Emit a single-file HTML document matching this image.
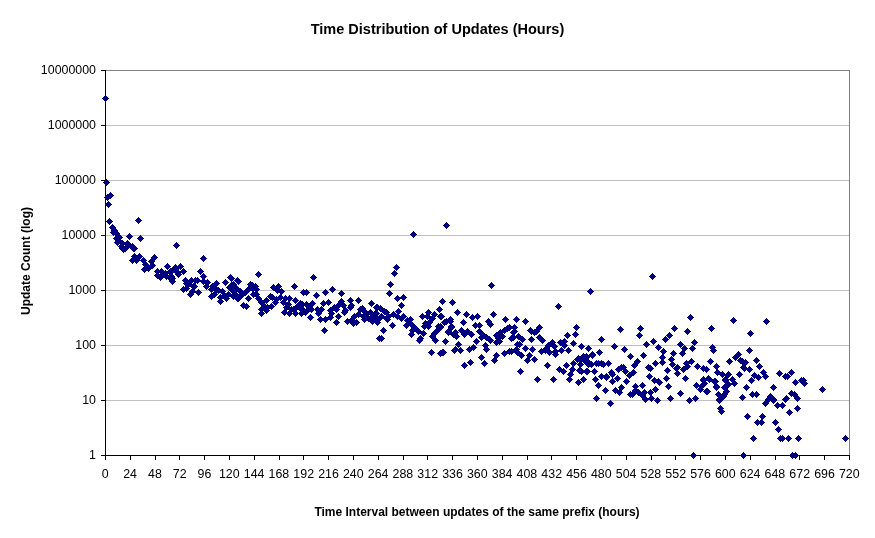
<!DOCTYPE html>
<html><head><meta charset="utf-8"><style>
html,body{margin:0;padding:0;background:#fff;width:875px;height:538px;overflow:hidden}
svg{display:block;will-change:transform}
text{font-family:"Liberation Sans",sans-serif;font-size:12.4px;fill:#000}
.b{font-weight:bold}
</style></head><body>
<svg width="875" height="538" viewBox="0 0 875 538">
<g shape-rendering="crispEdges">
<line x1="105" y1="125.5" x2="849" y2="125.5" stroke="#c0c0c0"/><line x1="105" y1="180.5" x2="849" y2="180.5" stroke="#c0c0c0"/><line x1="105" y1="235.5" x2="849" y2="235.5" stroke="#c0c0c0"/><line x1="105" y1="290.5" x2="849" y2="290.5" stroke="#c0c0c0"/><line x1="105" y1="345.5" x2="849" y2="345.5" stroke="#c0c0c0"/><line x1="105" y1="400.5" x2="849" y2="400.5" stroke="#c0c0c0"/><path d="M105 70.5H849.5V455" fill="none" stroke="#808080"/><path d="M105.5 70V455.5H850" fill="none" stroke="#000"/><path d="M101 70.5H106M101 125.5H106M101 180.5H106M101 235.5H106M101 290.5H106M101 345.5H106M101 400.5H106M101 455.5H106M105.5 455V460M130.5 455V460M155.5 455V460M179.5 455V460M204.5 455V460M229.5 455V460M254.5 455V460M279.5 455V460M303.5 455V460M328.5 455V460M353.5 455V460M378.5 455V460M403.5 455V460M427.5 455V460M452.5 455V460M477.5 455V460M502.5 455V460M527.5 455V460M551.5 455V460M576.5 455V460M601.5 455V460M626.5 455V460M651.5 455V460M675.5 455V460M700.5 455V460M725.5 455V460M750.5 455V460M775.5 455V460M799.5 455V460M824.5 455V460M849.5 455V460" stroke="#000"/>
</g>
<path d="M105.5 94.9l3.6 3.6l-3.6 3.6l-3.6-3.6zM106.5 178.9l3.6 3.6l-3.6 3.6l-3.6-3.6zM107.5 193.9l3.6 3.6l-3.6 3.6l-3.6-3.6zM110.5 191.9l3.6 3.6l-3.6 3.6l-3.6-3.6zM108.5 200.9l3.6 3.6l-3.6 3.6l-3.6-3.6zM109.5 217.9l3.6 3.6l-3.6 3.6l-3.6-3.6zM138.5 216.9l3.6 3.6l-3.6 3.6l-3.6-3.6zM112.5 223.9l3.6 3.6l-3.6 3.6l-3.6-3.6zM113.5 228.9l3.6 3.6l-3.6 3.6l-3.6-3.6zM129.5 232.9l3.6 3.6l-3.6 3.6l-3.6-3.6zM140.5 234.9l3.6 3.6l-3.6 3.6l-3.6-3.6zM116.5 234.9l3.6 3.6l-3.6 3.6l-3.6-3.6zM119.5 233.9l3.6 3.6l-3.6 3.6l-3.6-3.6zM117.5 238.9l3.6 3.6l-3.6 3.6l-3.6-3.6zM122.5 239.9l3.6 3.6l-3.6 3.6l-3.6-3.6zM121.5 242.9l3.6 3.6l-3.6 3.6l-3.6-3.6zM127.5 239.9l3.6 3.6l-3.6 3.6l-3.6-3.6zM125.5 244.9l3.6 3.6l-3.6 3.6l-3.6-3.6zM133.5 244.9l3.6 3.6l-3.6 3.6l-3.6-3.6zM123.5 245.9l3.6 3.6l-3.6 3.6l-3.6-3.6zM122.5 244.9l3.6 3.6l-3.6 3.6l-3.6-3.6zM126.5 243.9l3.6 3.6l-3.6 3.6l-3.6-3.6zM134.5 252.9l3.6 3.6l-3.6 3.6l-3.6-3.6zM132.5 256.9l3.6 3.6l-3.6 3.6l-3.6-3.6zM139.5 252.9l3.6 3.6l-3.6 3.6l-3.6-3.6zM136.5 256.9l3.6 3.6l-3.6 3.6l-3.6-3.6zM143.5 256.9l3.6 3.6l-3.6 3.6l-3.6-3.6zM154.5 253.9l3.6 3.6l-3.6 3.6l-3.6-3.6zM151.5 257.9l3.6 3.6l-3.6 3.6l-3.6-3.6zM144.5 265.9l3.6 3.6l-3.6 3.6l-3.6-3.6zM148.5 264.9l3.6 3.6l-3.6 3.6l-3.6-3.6zM152.5 261.9l3.6 3.6l-3.6 3.6l-3.6-3.6zM157.5 267.9l3.6 3.6l-3.6 3.6l-3.6-3.6zM157.5 271.9l3.6 3.6l-3.6 3.6l-3.6-3.6zM161.5 267.9l3.6 3.6l-3.6 3.6l-3.6-3.6zM167.5 262.9l3.6 3.6l-3.6 3.6l-3.6-3.6zM170.5 268.9l3.6 3.6l-3.6 3.6l-3.6-3.6zM165.5 269.9l3.6 3.6l-3.6 3.6l-3.6-3.6zM174.5 264.9l3.6 3.6l-3.6 3.6l-3.6-3.6zM172.5 274.9l3.6 3.6l-3.6 3.6l-3.6-3.6zM176.5 241.9l3.6 3.6l-3.6 3.6l-3.6-3.6zM203.5 254.9l3.6 3.6l-3.6 3.6l-3.6-3.6zM175.5 263.9l3.6 3.6l-3.6 3.6l-3.6-3.6zM180.5 262.9l3.6 3.6l-3.6 3.6l-3.6-3.6zM183.5 267.9l3.6 3.6l-3.6 3.6l-3.6-3.6zM178.5 270.9l3.6 3.6l-3.6 3.6l-3.6-3.6zM171.5 272.9l3.6 3.6l-3.6 3.6l-3.6-3.6zM172.5 277.9l3.6 3.6l-3.6 3.6l-3.6-3.6zM200.5 267.9l3.6 3.6l-3.6 3.6l-3.6-3.6zM203.5 272.9l3.6 3.6l-3.6 3.6l-3.6-3.6zM185.5 276.9l3.6 3.6l-3.6 3.6l-3.6-3.6zM191.5 276.9l3.6 3.6l-3.6 3.6l-3.6-3.6zM197.5 276.9l3.6 3.6l-3.6 3.6l-3.6-3.6zM186.5 284.9l3.6 3.6l-3.6 3.6l-3.6-3.6zM192.5 287.9l3.6 3.6l-3.6 3.6l-3.6-3.6zM198.5 288.9l3.6 3.6l-3.6 3.6l-3.6-3.6zM194.5 282.9l3.6 3.6l-3.6 3.6l-3.6-3.6zM207.5 278.9l3.6 3.6l-3.6 3.6l-3.6-3.6zM211.5 285.9l3.6 3.6l-3.6 3.6l-3.6-3.6zM211.5 292.9l3.6 3.6l-3.6 3.6l-3.6-3.6zM216.5 279.9l3.6 3.6l-3.6 3.6l-3.6-3.6zM218.5 286.9l3.6 3.6l-3.6 3.6l-3.6-3.6zM224.5 291.9l3.6 3.6l-3.6 3.6l-3.6-3.6zM220.5 297.9l3.6 3.6l-3.6 3.6l-3.6-3.6zM225.5 278.9l3.6 3.6l-3.6 3.6l-3.6-3.6zM230.5 273.9l3.6 3.6l-3.6 3.6l-3.6-3.6zM233.5 280.9l3.6 3.6l-3.6 3.6l-3.6-3.6zM229.5 283.9l3.6 3.6l-3.6 3.6l-3.6-3.6zM237.5 276.9l3.6 3.6l-3.6 3.6l-3.6-3.6zM235.5 290.9l3.6 3.6l-3.6 3.6l-3.6-3.6zM237.5 294.9l3.6 3.6l-3.6 3.6l-3.6-3.6zM258.5 270.9l3.6 3.6l-3.6 3.6l-3.6-3.6zM238.5 277.9l3.6 3.6l-3.6 3.6l-3.6-3.6zM231.5 274.9l3.6 3.6l-3.6 3.6l-3.6-3.6zM231.5 281.9l3.6 3.6l-3.6 3.6l-3.6-3.6zM232.5 286.9l3.6 3.6l-3.6 3.6l-3.6-3.6zM235.5 291.9l3.6 3.6l-3.6 3.6l-3.6-3.6zM238.5 294.9l3.6 3.6l-3.6 3.6l-3.6-3.6zM241.5 291.9l3.6 3.6l-3.6 3.6l-3.6-3.6zM248.5 294.9l3.6 3.6l-3.6 3.6l-3.6-3.6zM243.5 301.9l3.6 3.6l-3.6 3.6l-3.6-3.6zM246.5 302.9l3.6 3.6l-3.6 3.6l-3.6-3.6zM250.5 280.9l3.6 3.6l-3.6 3.6l-3.6-3.6zM248.5 285.9l3.6 3.6l-3.6 3.6l-3.6-3.6zM255.5 282.9l3.6 3.6l-3.6 3.6l-3.6-3.6zM256.5 285.9l3.6 3.6l-3.6 3.6l-3.6-3.6zM253.5 290.9l3.6 3.6l-3.6 3.6l-3.6-3.6zM258.5 294.9l3.6 3.6l-3.6 3.6l-3.6-3.6zM261.5 298.9l3.6 3.6l-3.6 3.6l-3.6-3.6zM266.5 296.9l3.6 3.6l-3.6 3.6l-3.6-3.6zM261.5 305.9l3.6 3.6l-3.6 3.6l-3.6-3.6zM261.5 309.9l3.6 3.6l-3.6 3.6l-3.6-3.6zM267.5 303.9l3.6 3.6l-3.6 3.6l-3.6-3.6zM272.5 293.9l3.6 3.6l-3.6 3.6l-3.6-3.6zM273.5 283.9l3.6 3.6l-3.6 3.6l-3.6-3.6zM278.5 282.9l3.6 3.6l-3.6 3.6l-3.6-3.6zM277.5 286.9l3.6 3.6l-3.6 3.6l-3.6-3.6zM281.5 287.9l3.6 3.6l-3.6 3.6l-3.6-3.6zM276.5 295.9l3.6 3.6l-3.6 3.6l-3.6-3.6zM280.5 293.9l3.6 3.6l-3.6 3.6l-3.6-3.6zM283.5 298.9l3.6 3.6l-3.6 3.6l-3.6-3.6zM286.5 303.9l3.6 3.6l-3.6 3.6l-3.6-3.6zM284.5 308.9l3.6 3.6l-3.6 3.6l-3.6-3.6zM289.5 294.9l3.6 3.6l-3.6 3.6l-3.6-3.6zM294.5 282.9l3.6 3.6l-3.6 3.6l-3.6-3.6zM303.5 288.9l3.6 3.6l-3.6 3.6l-3.6-3.6zM295.5 296.9l3.6 3.6l-3.6 3.6l-3.6-3.6zM299.5 300.9l3.6 3.6l-3.6 3.6l-3.6-3.6zM293.5 305.9l3.6 3.6l-3.6 3.6l-3.6-3.6zM295.5 309.9l3.6 3.6l-3.6 3.6l-3.6-3.6zM306.5 300.9l3.6 3.6l-3.6 3.6l-3.6-3.6zM307.5 306.9l3.6 3.6l-3.6 3.6l-3.6-3.6zM302.5 305.9l3.6 3.6l-3.6 3.6l-3.6-3.6zM313.5 273.9l3.6 3.6l-3.6 3.6l-3.6-3.6zM316.5 291.9l3.6 3.6l-3.6 3.6l-3.6-3.6zM325.5 288.9l3.6 3.6l-3.6 3.6l-3.6-3.6zM332.5 285.9l3.6 3.6l-3.6 3.6l-3.6-3.6zM341.5 289.9l3.6 3.6l-3.6 3.6l-3.6-3.6zM350.5 296.9l3.6 3.6l-3.6 3.6l-3.6-3.6zM358.5 296.9l3.6 3.6l-3.6 3.6l-3.6-3.6zM371.5 299.9l3.6 3.6l-3.6 3.6l-3.6-3.6zM376.5 303.9l3.6 3.6l-3.6 3.6l-3.6-3.6zM300.5 299.9l3.6 3.6l-3.6 3.6l-3.6-3.6zM302.5 300.9l3.6 3.6l-3.6 3.6l-3.6-3.6zM301.5 305.9l3.6 3.6l-3.6 3.6l-3.6-3.6zM310.5 313.9l3.6 3.6l-3.6 3.6l-3.6-3.6zM307.5 301.9l3.6 3.6l-3.6 3.6l-3.6-3.6zM312.5 299.9l3.6 3.6l-3.6 3.6l-3.6-3.6zM311.5 305.9l3.6 3.6l-3.6 3.6l-3.6-3.6zM317.5 305.9l3.6 3.6l-3.6 3.6l-3.6-3.6zM320.5 315.9l3.6 3.6l-3.6 3.6l-3.6-3.6zM321.5 305.9l3.6 3.6l-3.6 3.6l-3.6-3.6zM323.5 299.9l3.6 3.6l-3.6 3.6l-3.6-3.6zM328.5 298.9l3.6 3.6l-3.6 3.6l-3.6-3.6zM325.5 315.9l3.6 3.6l-3.6 3.6l-3.6-3.6zM324.5 326.9l3.6 3.6l-3.6 3.6l-3.6-3.6zM330.5 306.9l3.6 3.6l-3.6 3.6l-3.6-3.6zM334.5 303.9l3.6 3.6l-3.6 3.6l-3.6-3.6zM330.5 313.9l3.6 3.6l-3.6 3.6l-3.6-3.6zM336.5 318.9l3.6 3.6l-3.6 3.6l-3.6-3.6zM338.5 312.9l3.6 3.6l-3.6 3.6l-3.6-3.6zM343.5 301.9l3.6 3.6l-3.6 3.6l-3.6-3.6zM344.5 308.9l3.6 3.6l-3.6 3.6l-3.6-3.6zM347.5 317.9l3.6 3.6l-3.6 3.6l-3.6-3.6zM350.5 303.9l3.6 3.6l-3.6 3.6l-3.6-3.6zM353.5 319.9l3.6 3.6l-3.6 3.6l-3.6-3.6zM354.5 312.9l3.6 3.6l-3.6 3.6l-3.6-3.6zM360.5 305.9l3.6 3.6l-3.6 3.6l-3.6-3.6zM363.5 312.9l3.6 3.6l-3.6 3.6l-3.6-3.6zM365.5 308.9l3.6 3.6l-3.6 3.6l-3.6-3.6zM372.5 317.9l3.6 3.6l-3.6 3.6l-3.6-3.6zM377.5 318.9l3.6 3.6l-3.6 3.6l-3.6-3.6zM375.5 309.9l3.6 3.6l-3.6 3.6l-3.6-3.6zM379.5 334.9l3.6 3.6l-3.6 3.6l-3.6-3.6zM413.5 230.9l3.6 3.6l-3.6 3.6l-3.6-3.6zM446.5 221.9l3.6 3.6l-3.6 3.6l-3.6-3.6zM396.5 263.9l3.6 3.6l-3.6 3.6l-3.6-3.6zM394.5 269.9l3.6 3.6l-3.6 3.6l-3.6-3.6zM390.5 280.9l3.6 3.6l-3.6 3.6l-3.6-3.6zM389.5 289.9l3.6 3.6l-3.6 3.6l-3.6-3.6zM397.5 294.9l3.6 3.6l-3.6 3.6l-3.6-3.6zM403.5 293.9l3.6 3.6l-3.6 3.6l-3.6-3.6zM442.5 297.9l3.6 3.6l-3.6 3.6l-3.6-3.6zM401.5 301.9l3.6 3.6l-3.6 3.6l-3.6-3.6zM452.5 298.9l3.6 3.6l-3.6 3.6l-3.6-3.6zM377.5 303.9l3.6 3.6l-3.6 3.6l-3.6-3.6zM376.5 309.9l3.6 3.6l-3.6 3.6l-3.6-3.6zM378.5 315.9l3.6 3.6l-3.6 3.6l-3.6-3.6zM386.5 308.9l3.6 3.6l-3.6 3.6l-3.6-3.6zM387.5 315.9l3.6 3.6l-3.6 3.6l-3.6-3.6zM392.5 321.9l3.6 3.6l-3.6 3.6l-3.6-3.6zM383.5 326.9l3.6 3.6l-3.6 3.6l-3.6-3.6zM381.5 334.9l3.6 3.6l-3.6 3.6l-3.6-3.6zM393.5 310.9l3.6 3.6l-3.6 3.6l-3.6-3.6zM398.5 307.9l3.6 3.6l-3.6 3.6l-3.6-3.6zM403.5 312.9l3.6 3.6l-3.6 3.6l-3.6-3.6zM410.5 315.9l3.6 3.6l-3.6 3.6l-3.6-3.6zM406.5 321.9l3.6 3.6l-3.6 3.6l-3.6-3.6zM413.5 322.9l3.6 3.6l-3.6 3.6l-3.6-3.6zM411.5 330.9l3.6 3.6l-3.6 3.6l-3.6-3.6zM418.5 327.9l3.6 3.6l-3.6 3.6l-3.6-3.6zM420.5 334.9l3.6 3.6l-3.6 3.6l-3.6-3.6zM423.5 329.9l3.6 3.6l-3.6 3.6l-3.6-3.6zM422.5 312.9l3.6 3.6l-3.6 3.6l-3.6-3.6zM428.5 308.9l3.6 3.6l-3.6 3.6l-3.6-3.6zM434.5 310.9l3.6 3.6l-3.6 3.6l-3.6-3.6zM429.5 318.9l3.6 3.6l-3.6 3.6l-3.6-3.6zM424.5 322.9l3.6 3.6l-3.6 3.6l-3.6-3.6zM439.5 305.9l3.6 3.6l-3.6 3.6l-3.6-3.6zM440.5 312.9l3.6 3.6l-3.6 3.6l-3.6-3.6zM438.5 322.9l3.6 3.6l-3.6 3.6l-3.6-3.6zM434.5 329.9l3.6 3.6l-3.6 3.6l-3.6-3.6zM435.5 336.9l3.6 3.6l-3.6 3.6l-3.6-3.6zM446.5 317.9l3.6 3.6l-3.6 3.6l-3.6-3.6zM450.5 315.9l3.6 3.6l-3.6 3.6l-3.6-3.6zM451.5 323.9l3.6 3.6l-3.6 3.6l-3.6-3.6zM448.5 328.9l3.6 3.6l-3.6 3.6l-3.6-3.6zM445.5 337.9l3.6 3.6l-3.6 3.6l-3.6-3.6zM453.5 330.9l3.6 3.6l-3.6 3.6l-3.6-3.6zM419.5 336.9l3.6 3.6l-3.6 3.6l-3.6-3.6zM432.5 332.9l3.6 3.6l-3.6 3.6l-3.6-3.6zM431.5 348.9l3.6 3.6l-3.6 3.6l-3.6-3.6zM440.5 349.9l3.6 3.6l-3.6 3.6l-3.6-3.6zM443.5 348.9l3.6 3.6l-3.6 3.6l-3.6-3.6zM454.5 346.9l3.6 3.6l-3.6 3.6l-3.6-3.6zM491.5 281.9l3.6 3.6l-3.6 3.6l-3.6-3.6zM457.5 308.9l3.6 3.6l-3.6 3.6l-3.6-3.6zM466.5 310.9l3.6 3.6l-3.6 3.6l-3.6-3.6zM472.5 313.9l3.6 3.6l-3.6 3.6l-3.6-3.6zM477.5 312.9l3.6 3.6l-3.6 3.6l-3.6-3.6zM493.5 310.9l3.6 3.6l-3.6 3.6l-3.6-3.6zM505.5 315.9l3.6 3.6l-3.6 3.6l-3.6-3.6zM516.5 315.9l3.6 3.6l-3.6 3.6l-3.6-3.6zM441.5 312.9l3.6 3.6l-3.6 3.6l-3.6-3.6zM450.5 315.9l3.6 3.6l-3.6 3.6l-3.6-3.6zM444.5 318.9l3.6 3.6l-3.6 3.6l-3.6-3.6zM463.5 318.9l3.6 3.6l-3.6 3.6l-3.6-3.6zM475.5 321.9l3.6 3.6l-3.6 3.6l-3.6-3.6zM479.5 321.9l3.6 3.6l-3.6 3.6l-3.6-3.6zM488.5 317.9l3.6 3.6l-3.6 3.6l-3.6-3.6zM490.5 320.9l3.6 3.6l-3.6 3.6l-3.6-3.6zM451.5 322.9l3.6 3.6l-3.6 3.6l-3.6-3.6zM509.5 323.9l3.6 3.6l-3.6 3.6l-3.6-3.6zM450.5 317.9l3.6 3.6l-3.6 3.6l-3.6-3.6zM440.5 322.9l3.6 3.6l-3.6 3.6l-3.6-3.6zM448.5 327.9l3.6 3.6l-3.6 3.6l-3.6-3.6zM455.5 328.9l3.6 3.6l-3.6 3.6l-3.6-3.6zM456.5 332.9l3.6 3.6l-3.6 3.6l-3.6-3.6zM461.5 326.9l3.6 3.6l-3.6 3.6l-3.6-3.6zM464.5 330.9l3.6 3.6l-3.6 3.6l-3.6-3.6zM467.5 327.9l3.6 3.6l-3.6 3.6l-3.6-3.6zM471.5 330.9l3.6 3.6l-3.6 3.6l-3.6-3.6zM479.5 327.9l3.6 3.6l-3.6 3.6l-3.6-3.6zM482.5 330.9l3.6 3.6l-3.6 3.6l-3.6-3.6zM481.5 333.9l3.6 3.6l-3.6 3.6l-3.6-3.6zM476.5 337.9l3.6 3.6l-3.6 3.6l-3.6-3.6zM489.5 335.9l3.6 3.6l-3.6 3.6l-3.6-3.6zM496.5 331.9l3.6 3.6l-3.6 3.6l-3.6-3.6zM500.5 328.9l3.6 3.6l-3.6 3.6l-3.6-3.6zM504.5 326.9l3.6 3.6l-3.6 3.6l-3.6-3.6zM514.5 327.9l3.6 3.6l-3.6 3.6l-3.6-3.6zM513.5 333.9l3.6 3.6l-3.6 3.6l-3.6-3.6zM499.5 337.9l3.6 3.6l-3.6 3.6l-3.6-3.6zM496.5 338.9l3.6 3.6l-3.6 3.6l-3.6-3.6zM445.5 337.9l3.6 3.6l-3.6 3.6l-3.6-3.6zM458.5 340.9l3.6 3.6l-3.6 3.6l-3.6-3.6zM455.5 345.9l3.6 3.6l-3.6 3.6l-3.6-3.6zM460.5 346.9l3.6 3.6l-3.6 3.6l-3.6-3.6zM469.5 345.9l3.6 3.6l-3.6 3.6l-3.6-3.6zM473.5 343.9l3.6 3.6l-3.6 3.6l-3.6-3.6zM485.5 341.9l3.6 3.6l-3.6 3.6l-3.6-3.6zM486.5 345.9l3.6 3.6l-3.6 3.6l-3.6-3.6zM442.5 348.9l3.6 3.6l-3.6 3.6l-3.6-3.6zM481.5 353.9l3.6 3.6l-3.6 3.6l-3.6-3.6zM496.5 351.9l3.6 3.6l-3.6 3.6l-3.6-3.6zM494.5 356.9l3.6 3.6l-3.6 3.6l-3.6-3.6zM504.5 349.9l3.6 3.6l-3.6 3.6l-3.6-3.6zM509.5 347.9l3.6 3.6l-3.6 3.6l-3.6-3.6zM517.5 340.9l3.6 3.6l-3.6 3.6l-3.6-3.6zM517.5 348.9l3.6 3.6l-3.6 3.6l-3.6-3.6zM470.5 358.9l3.6 3.6l-3.6 3.6l-3.6-3.6zM464.5 361.9l3.6 3.6l-3.6 3.6l-3.6-3.6zM484.5 359.9l3.6 3.6l-3.6 3.6l-3.6-3.6zM558.5 302.9l3.6 3.6l-3.6 3.6l-3.6-3.6zM525.5 317.9l3.6 3.6l-3.6 3.6l-3.6-3.6zM530.5 326.9l3.6 3.6l-3.6 3.6l-3.6-3.6zM534.5 328.9l3.6 3.6l-3.6 3.6l-3.6-3.6zM539.5 323.9l3.6 3.6l-3.6 3.6l-3.6-3.6zM576.5 323.9l3.6 3.6l-3.6 3.6l-3.6-3.6zM567.5 331.9l3.6 3.6l-3.6 3.6l-3.6-3.6zM575.5 330.9l3.6 3.6l-3.6 3.6l-3.6-3.6zM590.5 287.9l3.6 3.6l-3.6 3.6l-3.6-3.6zM513.5 328.9l3.6 3.6l-3.6 3.6l-3.6-3.6zM511.5 334.9l3.6 3.6l-3.6 3.6l-3.6-3.6zM531.5 327.9l3.6 3.6l-3.6 3.6l-3.6-3.6zM536.5 327.9l3.6 3.6l-3.6 3.6l-3.6-3.6zM522.5 335.9l3.6 3.6l-3.6 3.6l-3.6-3.6zM531.5 335.9l3.6 3.6l-3.6 3.6l-3.6-3.6zM539.5 333.9l3.6 3.6l-3.6 3.6l-3.6-3.6zM542.5 336.9l3.6 3.6l-3.6 3.6l-3.6-3.6zM573.5 339.9l3.6 3.6l-3.6 3.6l-3.6-3.6zM519.5 340.9l3.6 3.6l-3.6 3.6l-3.6-3.6zM516.5 345.9l3.6 3.6l-3.6 3.6l-3.6-3.6zM511.5 347.9l3.6 3.6l-3.6 3.6l-3.6-3.6zM525.5 344.9l3.6 3.6l-3.6 3.6l-3.6-3.6zM532.5 345.9l3.6 3.6l-3.6 3.6l-3.6-3.6zM521.5 351.9l3.6 3.6l-3.6 3.6l-3.6-3.6zM529.5 351.9l3.6 3.6l-3.6 3.6l-3.6-3.6zM527.5 356.9l3.6 3.6l-3.6 3.6l-3.6-3.6zM534.5 355.9l3.6 3.6l-3.6 3.6l-3.6-3.6zM552.5 338.9l3.6 3.6l-3.6 3.6l-3.6-3.6zM546.5 344.9l3.6 3.6l-3.6 3.6l-3.6-3.6zM541.5 347.9l3.6 3.6l-3.6 3.6l-3.6-3.6zM549.5 348.9l3.6 3.6l-3.6 3.6l-3.6-3.6zM555.5 347.9l3.6 3.6l-3.6 3.6l-3.6-3.6zM555.5 350.9l3.6 3.6l-3.6 3.6l-3.6-3.6zM560.5 338.9l3.6 3.6l-3.6 3.6l-3.6-3.6zM564.5 337.9l3.6 3.6l-3.6 3.6l-3.6-3.6zM564.5 341.9l3.6 3.6l-3.6 3.6l-3.6-3.6zM561.5 346.9l3.6 3.6l-3.6 3.6l-3.6-3.6zM568.5 346.9l3.6 3.6l-3.6 3.6l-3.6-3.6zM581.5 342.9l3.6 3.6l-3.6 3.6l-3.6-3.6zM588.5 344.9l3.6 3.6l-3.6 3.6l-3.6-3.6zM547.5 361.9l3.6 3.6l-3.6 3.6l-3.6-3.6zM520.5 367.9l3.6 3.6l-3.6 3.6l-3.6-3.6zM559.5 365.9l3.6 3.6l-3.6 3.6l-3.6-3.6zM563.5 367.9l3.6 3.6l-3.6 3.6l-3.6-3.6zM566.5 361.9l3.6 3.6l-3.6 3.6l-3.6-3.6zM573.5 359.9l3.6 3.6l-3.6 3.6l-3.6-3.6zM577.5 355.9l3.6 3.6l-3.6 3.6l-3.6-3.6zM583.5 352.9l3.6 3.6l-3.6 3.6l-3.6-3.6zM586.5 356.9l3.6 3.6l-3.6 3.6l-3.6-3.6zM572.5 365.9l3.6 3.6l-3.6 3.6l-3.6-3.6zM579.5 366.9l3.6 3.6l-3.6 3.6l-3.6-3.6zM586.5 367.9l3.6 3.6l-3.6 3.6l-3.6-3.6zM588.5 360.9l3.6 3.6l-3.6 3.6l-3.6-3.6zM570.5 370.9l3.6 3.6l-3.6 3.6l-3.6-3.6zM537.5 375.9l3.6 3.6l-3.6 3.6l-3.6-3.6zM553.5 375.9l3.6 3.6l-3.6 3.6l-3.6-3.6zM583.5 375.9l3.6 3.6l-3.6 3.6l-3.6-3.6zM569.5 375.9l3.6 3.6l-3.6 3.6l-3.6-3.6zM578.5 378.9l3.6 3.6l-3.6 3.6l-3.6-3.6zM652.5 272.9l3.6 3.6l-3.6 3.6l-3.6-3.6zM690.5 313.9l3.6 3.6l-3.6 3.6l-3.6-3.6zM620.5 325.9l3.6 3.6l-3.6 3.6l-3.6-3.6zM640.5 324.9l3.6 3.6l-3.6 3.6l-3.6-3.6zM639.5 331.9l3.6 3.6l-3.6 3.6l-3.6-3.6zM601.5 335.9l3.6 3.6l-3.6 3.6l-3.6-3.6zM599.5 348.9l3.6 3.6l-3.6 3.6l-3.6-3.6zM614.5 342.9l3.6 3.6l-3.6 3.6l-3.6-3.6zM624.5 345.9l3.6 3.6l-3.6 3.6l-3.6-3.6zM630.5 352.9l3.6 3.6l-3.6 3.6l-3.6-3.6zM646.5 340.9l3.6 3.6l-3.6 3.6l-3.6-3.6zM653.5 337.9l3.6 3.6l-3.6 3.6l-3.6-3.6zM658.5 343.9l3.6 3.6l-3.6 3.6l-3.6-3.6zM643.5 351.9l3.6 3.6l-3.6 3.6l-3.6-3.6zM637.5 357.9l3.6 3.6l-3.6 3.6l-3.6-3.6zM634.5 361.9l3.6 3.6l-3.6 3.6l-3.6-3.6zM655.5 359.9l3.6 3.6l-3.6 3.6l-3.6-3.6zM592.5 351.9l3.6 3.6l-3.6 3.6l-3.6-3.6zM585.5 357.9l3.6 3.6l-3.6 3.6l-3.6-3.6zM591.5 360.9l3.6 3.6l-3.6 3.6l-3.6-3.6zM596.5 359.9l3.6 3.6l-3.6 3.6l-3.6-3.6zM601.5 359.9l3.6 3.6l-3.6 3.6l-3.6-3.6zM608.5 359.9l3.6 3.6l-3.6 3.6l-3.6-3.6zM621.5 363.9l3.6 3.6l-3.6 3.6l-3.6-3.6zM648.5 363.9l3.6 3.6l-3.6 3.6l-3.6-3.6zM598.5 359.9l3.6 3.6l-3.6 3.6l-3.6-3.6zM603.5 360.9l3.6 3.6l-3.6 3.6l-3.6-3.6zM581.5 367.9l3.6 3.6l-3.6 3.6l-3.6-3.6zM587.5 367.9l3.6 3.6l-3.6 3.6l-3.6-3.6zM594.5 367.9l3.6 3.6l-3.6 3.6l-3.6-3.6zM583.5 375.9l3.6 3.6l-3.6 3.6l-3.6-3.6zM595.5 375.9l3.6 3.6l-3.6 3.6l-3.6-3.6zM598.5 381.9l3.6 3.6l-3.6 3.6l-3.6-3.6zM601.5 372.9l3.6 3.6l-3.6 3.6l-3.6-3.6zM606.5 373.9l3.6 3.6l-3.6 3.6l-3.6-3.6zM611.5 368.9l3.6 3.6l-3.6 3.6l-3.6-3.6zM612.5 377.9l3.6 3.6l-3.6 3.6l-3.6-3.6zM617.5 374.9l3.6 3.6l-3.6 3.6l-3.6-3.6zM618.5 365.9l3.6 3.6l-3.6 3.6l-3.6-3.6zM623.5 363.9l3.6 3.6l-3.6 3.6l-3.6-3.6zM625.5 367.9l3.6 3.6l-3.6 3.6l-3.6-3.6zM629.5 371.9l3.6 3.6l-3.6 3.6l-3.6-3.6zM633.5 368.9l3.6 3.6l-3.6 3.6l-3.6-3.6zM626.5 377.9l3.6 3.6l-3.6 3.6l-3.6-3.6zM605.5 386.9l3.6 3.6l-3.6 3.6l-3.6-3.6zM615.5 386.9l3.6 3.6l-3.6 3.6l-3.6-3.6zM621.5 383.9l3.6 3.6l-3.6 3.6l-3.6-3.6zM619.5 388.9l3.6 3.6l-3.6 3.6l-3.6-3.6zM596.5 394.9l3.6 3.6l-3.6 3.6l-3.6-3.6zM610.5 399.9l3.6 3.6l-3.6 3.6l-3.6-3.6zM635.5 382.9l3.6 3.6l-3.6 3.6l-3.6-3.6zM635.5 386.9l3.6 3.6l-3.6 3.6l-3.6-3.6zM630.5 390.9l3.6 3.6l-3.6 3.6l-3.6-3.6zM642.5 381.9l3.6 3.6l-3.6 3.6l-3.6-3.6zM644.5 388.9l3.6 3.6l-3.6 3.6l-3.6-3.6zM642.5 391.9l3.6 3.6l-3.6 3.6l-3.6-3.6zM645.5 395.9l3.6 3.6l-3.6 3.6l-3.6-3.6zM649.5 372.9l3.6 3.6l-3.6 3.6l-3.6-3.6zM654.5 376.9l3.6 3.6l-3.6 3.6l-3.6-3.6zM658.5 377.9l3.6 3.6l-3.6 3.6l-3.6-3.6zM655.5 385.9l3.6 3.6l-3.6 3.6l-3.6-3.6zM650.5 388.9l3.6 3.6l-3.6 3.6l-3.6-3.6zM651.5 394.9l3.6 3.6l-3.6 3.6l-3.6-3.6zM657.5 396.9l3.6 3.6l-3.6 3.6l-3.6-3.6zM733.5 316.9l3.6 3.6l-3.6 3.6l-3.6-3.6zM766.5 317.9l3.6 3.6l-3.6 3.6l-3.6-3.6zM674.5 324.9l3.6 3.6l-3.6 3.6l-3.6-3.6zM687.5 327.9l3.6 3.6l-3.6 3.6l-3.6-3.6zM711.5 324.9l3.6 3.6l-3.6 3.6l-3.6-3.6zM750.5 329.9l3.6 3.6l-3.6 3.6l-3.6-3.6zM669.5 331.9l3.6 3.6l-3.6 3.6l-3.6-3.6zM665.5 335.9l3.6 3.6l-3.6 3.6l-3.6-3.6zM663.5 347.9l3.6 3.6l-3.6 3.6l-3.6-3.6zM680.5 340.9l3.6 3.6l-3.6 3.6l-3.6-3.6zM684.5 344.9l3.6 3.6l-3.6 3.6l-3.6-3.6zM694.5 338.9l3.6 3.6l-3.6 3.6l-3.6-3.6zM692.5 344.9l3.6 3.6l-3.6 3.6l-3.6-3.6zM712.5 343.9l3.6 3.6l-3.6 3.6l-3.6-3.6zM713.5 346.9l3.6 3.6l-3.6 3.6l-3.6-3.6zM749.5 346.9l3.6 3.6l-3.6 3.6l-3.6-3.6zM673.5 349.9l3.6 3.6l-3.6 3.6l-3.6-3.6zM682.5 349.9l3.6 3.6l-3.6 3.6l-3.6-3.6zM662.5 353.9l3.6 3.6l-3.6 3.6l-3.6-3.6zM671.5 355.9l3.6 3.6l-3.6 3.6l-3.6-3.6zM662.5 358.9l3.6 3.6l-3.6 3.6l-3.6-3.6zM672.5 360.9l3.6 3.6l-3.6 3.6l-3.6-3.6zM691.5 357.9l3.6 3.6l-3.6 3.6l-3.6-3.6zM686.5 359.9l3.6 3.6l-3.6 3.6l-3.6-3.6zM687.5 362.9l3.6 3.6l-3.6 3.6l-3.6-3.6zM710.5 357.9l3.6 3.6l-3.6 3.6l-3.6-3.6zM697.5 362.9l3.6 3.6l-3.6 3.6l-3.6-3.6zM703.5 364.9l3.6 3.6l-3.6 3.6l-3.6-3.6zM716.5 362.9l3.6 3.6l-3.6 3.6l-3.6-3.6zM729.5 357.9l3.6 3.6l-3.6 3.6l-3.6-3.6zM738.5 350.9l3.6 3.6l-3.6 3.6l-3.6-3.6zM735.5 353.9l3.6 3.6l-3.6 3.6l-3.6-3.6zM740.5 356.9l3.6 3.6l-3.6 3.6l-3.6-3.6zM745.5 358.9l3.6 3.6l-3.6 3.6l-3.6-3.6zM756.5 356.9l3.6 3.6l-3.6 3.6l-3.6-3.6zM759.5 362.9l3.6 3.6l-3.6 3.6l-3.6-3.6zM744.5 364.9l3.6 3.6l-3.6 3.6l-3.6-3.6zM749.5 365.9l3.6 3.6l-3.6 3.6l-3.6-3.6zM667.5 366.9l3.6 3.6l-3.6 3.6l-3.6-3.6zM676.5 364.9l3.6 3.6l-3.6 3.6l-3.6-3.6zM683.5 365.9l3.6 3.6l-3.6 3.6l-3.6-3.6zM763.5 368.9l3.6 3.6l-3.6 3.6l-3.6-3.6zM650.5 364.9l3.6 3.6l-3.6 3.6l-3.6-3.6zM677.5 363.9l3.6 3.6l-3.6 3.6l-3.6-3.6zM717.5 368.9l3.6 3.6l-3.6 3.6l-3.6-3.6zM722.5 370.9l3.6 3.6l-3.6 3.6l-3.6-3.6zM727.5 371.9l3.6 3.6l-3.6 3.6l-3.6-3.6zM666.5 374.9l3.6 3.6l-3.6 3.6l-3.6-3.6zM685.5 374.9l3.6 3.6l-3.6 3.6l-3.6-3.6zM659.5 378.9l3.6 3.6l-3.6 3.6l-3.6-3.6zM668.5 382.9l3.6 3.6l-3.6 3.6l-3.6-3.6zM670.5 394.9l3.6 3.6l-3.6 3.6l-3.6-3.6zM680.5 389.9l3.6 3.6l-3.6 3.6l-3.6-3.6zM689.5 396.9l3.6 3.6l-3.6 3.6l-3.6-3.6zM695.5 394.9l3.6 3.6l-3.6 3.6l-3.6-3.6zM696.5 381.9l3.6 3.6l-3.6 3.6l-3.6-3.6zM703.5 375.9l3.6 3.6l-3.6 3.6l-3.6-3.6zM708.5 374.9l3.6 3.6l-3.6 3.6l-3.6-3.6zM704.5 379.9l3.6 3.6l-3.6 3.6l-3.6-3.6zM700.5 385.9l3.6 3.6l-3.6 3.6l-3.6-3.6zM707.5 387.9l3.6 3.6l-3.6 3.6l-3.6-3.6zM714.5 377.9l3.6 3.6l-3.6 3.6l-3.6-3.6zM716.5 382.9l3.6 3.6l-3.6 3.6l-3.6-3.6zM725.5 376.9l3.6 3.6l-3.6 3.6l-3.6-3.6zM726.5 382.9l3.6 3.6l-3.6 3.6l-3.6-3.6zM718.5 390.9l3.6 3.6l-3.6 3.6l-3.6-3.6zM724.5 390.9l3.6 3.6l-3.6 3.6l-3.6-3.6zM719.5 396.9l3.6 3.6l-3.6 3.6l-3.6-3.6zM720.5 404.9l3.6 3.6l-3.6 3.6l-3.6-3.6zM721.5 407.9l3.6 3.6l-3.6 3.6l-3.6-3.6zM742.5 357.9l3.6 3.6l-3.6 3.6l-3.6-3.6zM743.5 363.9l3.6 3.6l-3.6 3.6l-3.6-3.6zM722.5 370.9l3.6 3.6l-3.6 3.6l-3.6-3.6zM728.5 370.9l3.6 3.6l-3.6 3.6l-3.6-3.6zM739.5 370.9l3.6 3.6l-3.6 3.6l-3.6-3.6zM754.5 371.9l3.6 3.6l-3.6 3.6l-3.6-3.6zM763.5 368.9l3.6 3.6l-3.6 3.6l-3.6-3.6zM765.5 372.9l3.6 3.6l-3.6 3.6l-3.6-3.6zM758.5 373.9l3.6 3.6l-3.6 3.6l-3.6-3.6zM779.5 369.9l3.6 3.6l-3.6 3.6l-3.6-3.6zM785.5 372.9l3.6 3.6l-3.6 3.6l-3.6-3.6zM791.5 368.9l3.6 3.6l-3.6 3.6l-3.6-3.6zM703.5 376.9l3.6 3.6l-3.6 3.6l-3.6-3.6zM709.5 375.9l3.6 3.6l-3.6 3.6l-3.6-3.6zM715.5 377.9l3.6 3.6l-3.6 3.6l-3.6-3.6zM725.5 375.9l3.6 3.6l-3.6 3.6l-3.6-3.6zM732.5 375.9l3.6 3.6l-3.6 3.6l-3.6-3.6zM734.5 379.9l3.6 3.6l-3.6 3.6l-3.6-3.6zM751.5 376.9l3.6 3.6l-3.6 3.6l-3.6-3.6zM795.5 378.9l3.6 3.6l-3.6 3.6l-3.6-3.6zM701.5 382.9l3.6 3.6l-3.6 3.6l-3.6-3.6zM716.5 383.9l3.6 3.6l-3.6 3.6l-3.6-3.6zM724.5 383.9l3.6 3.6l-3.6 3.6l-3.6-3.6zM728.5 380.9l3.6 3.6l-3.6 3.6l-3.6-3.6zM746.5 383.9l3.6 3.6l-3.6 3.6l-3.6-3.6zM773.5 383.9l3.6 3.6l-3.6 3.6l-3.6-3.6zM706.5 387.9l3.6 3.6l-3.6 3.6l-3.6-3.6zM726.5 387.9l3.6 3.6l-3.6 3.6l-3.6-3.6zM718.5 390.9l3.6 3.6l-3.6 3.6l-3.6-3.6zM723.5 392.9l3.6 3.6l-3.6 3.6l-3.6-3.6zM752.5 390.9l3.6 3.6l-3.6 3.6l-3.6-3.6zM756.5 390.9l3.6 3.6l-3.6 3.6l-3.6-3.6zM742.5 393.9l3.6 3.6l-3.6 3.6l-3.6-3.6zM719.5 395.9l3.6 3.6l-3.6 3.6l-3.6-3.6zM770.5 392.9l3.6 3.6l-3.6 3.6l-3.6-3.6zM768.5 395.9l3.6 3.6l-3.6 3.6l-3.6-3.6zM773.5 395.9l3.6 3.6l-3.6 3.6l-3.6-3.6zM791.5 389.9l3.6 3.6l-3.6 3.6l-3.6-3.6zM794.5 390.9l3.6 3.6l-3.6 3.6l-3.6-3.6zM786.5 394.9l3.6 3.6l-3.6 3.6l-3.6-3.6zM797.5 394.9l3.6 3.6l-3.6 3.6l-3.6-3.6zM765.5 399.9l3.6 3.6l-3.6 3.6l-3.6-3.6zM773.5 396.9l3.6 3.6l-3.6 3.6l-3.6-3.6zM785.5 395.9l3.6 3.6l-3.6 3.6l-3.6-3.6zM777.5 401.9l3.6 3.6l-3.6 3.6l-3.6-3.6zM782.5 401.9l3.6 3.6l-3.6 3.6l-3.6-3.6zM789.5 408.9l3.6 3.6l-3.6 3.6l-3.6-3.6zM797.5 404.9l3.6 3.6l-3.6 3.6l-3.6-3.6zM747.5 412.9l3.6 3.6l-3.6 3.6l-3.6-3.6zM762.5 412.9l3.6 3.6l-3.6 3.6l-3.6-3.6zM757.5 418.9l3.6 3.6l-3.6 3.6l-3.6-3.6zM761.5 418.9l3.6 3.6l-3.6 3.6l-3.6-3.6zM775.5 418.9l3.6 3.6l-3.6 3.6l-3.6-3.6zM778.5 425.9l3.6 3.6l-3.6 3.6l-3.6-3.6zM753.5 434.9l3.6 3.6l-3.6 3.6l-3.6-3.6zM780.5 434.9l3.6 3.6l-3.6 3.6l-3.6-3.6zM782.5 434.9l3.6 3.6l-3.6 3.6l-3.6-3.6zM788.5 434.9l3.6 3.6l-3.6 3.6l-3.6-3.6zM798.5 434.9l3.6 3.6l-3.6 3.6l-3.6-3.6zM743.5 451.9l3.6 3.6l-3.6 3.6l-3.6-3.6zM792.5 451.9l3.6 3.6l-3.6 3.6l-3.6-3.6zM795.5 451.9l3.6 3.6l-3.6 3.6l-3.6-3.6zM787.5 372.9l3.6 3.6l-3.6 3.6l-3.6-3.6zM801.5 376.9l3.6 3.6l-3.6 3.6l-3.6-3.6zM803.5 376.9l3.6 3.6l-3.6 3.6l-3.6-3.6zM804.5 379.9l3.6 3.6l-3.6 3.6l-3.6-3.6zM822.5 385.9l3.6 3.6l-3.6 3.6l-3.6-3.6zM845.5 434.9l3.6 3.6l-3.6 3.6l-3.6-3.6zM693.5 451.9l3.6 3.6l-3.6 3.6l-3.6-3.6zM170.5 267.9l3.6 3.6l-3.6 3.6l-3.6-3.6zM177.5 268.9l3.6 3.6l-3.6 3.6l-3.6-3.6zM176.5 264.9l3.6 3.6l-3.6 3.6l-3.6-3.6zM169.5 273.9l3.6 3.6l-3.6 3.6l-3.6-3.6zM163.5 269.9l3.6 3.6l-3.6 3.6l-3.6-3.6zM188.5 280.9l3.6 3.6l-3.6 3.6l-3.6-3.6zM195.5 276.9l3.6 3.6l-3.6 3.6l-3.6-3.6zM203.5 277.9l3.6 3.6l-3.6 3.6l-3.6-3.6zM206.5 282.9l3.6 3.6l-3.6 3.6l-3.6-3.6zM183.5 285.9l3.6 3.6l-3.6 3.6l-3.6-3.6zM190.5 290.9l3.6 3.6l-3.6 3.6l-3.6-3.6zM212.5 282.9l3.6 3.6l-3.6 3.6l-3.6-3.6zM216.5 285.9l3.6 3.6l-3.6 3.6l-3.6-3.6zM222.5 287.9l3.6 3.6l-3.6 3.6l-3.6-3.6zM228.5 290.9l3.6 3.6l-3.6 3.6l-3.6-3.6zM232.5 286.9l3.6 3.6l-3.6 3.6l-3.6-3.6zM214.5 290.9l3.6 3.6l-3.6 3.6l-3.6-3.6zM220.5 293.9l3.6 3.6l-3.6 3.6l-3.6-3.6zM226.5 294.9l3.6 3.6l-3.6 3.6l-3.6-3.6zM233.5 292.9l3.6 3.6l-3.6 3.6l-3.6-3.6zM114.5 226.9l3.6 3.6l-3.6 3.6l-3.6-3.6zM116.5 229.9l3.6 3.6l-3.6 3.6l-3.6-3.6zM128.5 240.9l3.6 3.6l-3.6 3.6l-3.6-3.6zM132.5 242.9l3.6 3.6l-3.6 3.6l-3.6-3.6zM118.5 236.9l3.6 3.6l-3.6 3.6l-3.6-3.6zM134.5 244.9l3.6 3.6l-3.6 3.6l-3.6-3.6zM145.5 260.9l3.6 3.6l-3.6 3.6l-3.6-3.6zM148.5 263.9l3.6 3.6l-3.6 3.6l-3.6-3.6zM163.5 270.9l3.6 3.6l-3.6 3.6l-3.6-3.6zM160.5 273.9l3.6 3.6l-3.6 3.6l-3.6-3.6zM166.5 272.9l3.6 3.6l-3.6 3.6l-3.6-3.6zM245.5 288.9l3.6 3.6l-3.6 3.6l-3.6-3.6zM236.5 284.9l3.6 3.6l-3.6 3.6l-3.6-3.6zM240.5 287.9l3.6 3.6l-3.6 3.6l-3.6-3.6zM233.5 283.9l3.6 3.6l-3.6 3.6l-3.6-3.6zM252.5 284.9l3.6 3.6l-3.6 3.6l-3.6-3.6zM252.5 281.9l3.6 3.6l-3.6 3.6l-3.6-3.6zM256.5 290.9l3.6 3.6l-3.6 3.6l-3.6-3.6zM270.5 292.9l3.6 3.6l-3.6 3.6l-3.6-3.6zM275.5 298.9l3.6 3.6l-3.6 3.6l-3.6-3.6zM266.5 306.9l3.6 3.6l-3.6 3.6l-3.6-3.6zM264.5 302.9l3.6 3.6l-3.6 3.6l-3.6-3.6zM271.5 302.9l3.6 3.6l-3.6 3.6l-3.6-3.6zM285.5 294.9l3.6 3.6l-3.6 3.6l-3.6-3.6zM288.5 300.9l3.6 3.6l-3.6 3.6l-3.6-3.6zM291.5 305.9l3.6 3.6l-3.6 3.6l-3.6-3.6zM289.5 309.9l3.6 3.6l-3.6 3.6l-3.6-3.6zM295.5 304.9l3.6 3.6l-3.6 3.6l-3.6-3.6zM298.5 302.9l3.6 3.6l-3.6 3.6l-3.6-3.6zM305.5 308.9l3.6 3.6l-3.6 3.6l-3.6-3.6zM301.5 309.9l3.6 3.6l-3.6 3.6l-3.6-3.6zM308.5 302.9l3.6 3.6l-3.6 3.6l-3.6-3.6zM306.5 288.9l3.6 3.6l-3.6 3.6l-3.6-3.6zM320.5 306.9l3.6 3.6l-3.6 3.6l-3.6-3.6zM318.5 309.9l3.6 3.6l-3.6 3.6l-3.6-3.6zM331.5 309.9l3.6 3.6l-3.6 3.6l-3.6-3.6zM336.5 305.9l3.6 3.6l-3.6 3.6l-3.6-3.6zM345.5 306.9l3.6 3.6l-3.6 3.6l-3.6-3.6zM351.5 301.9l3.6 3.6l-3.6 3.6l-3.6-3.6zM338.5 301.9l3.6 3.6l-3.6 3.6l-3.6-3.6zM341.5 297.9l3.6 3.6l-3.6 3.6l-3.6-3.6zM351.5 316.9l3.6 3.6l-3.6 3.6l-3.6-3.6zM358.5 310.9l3.6 3.6l-3.6 3.6l-3.6-3.6zM356.5 318.9l3.6 3.6l-3.6 3.6l-3.6-3.6zM362.5 304.9l3.6 3.6l-3.6 3.6l-3.6-3.6zM366.5 310.9l3.6 3.6l-3.6 3.6l-3.6-3.6zM370.5 308.9l3.6 3.6l-3.6 3.6l-3.6-3.6zM373.5 312.9l3.6 3.6l-3.6 3.6l-3.6-3.6zM364.5 315.9l3.6 3.6l-3.6 3.6l-3.6-3.6zM368.5 314.9l3.6 3.6l-3.6 3.6l-3.6-3.6zM380.5 304.9l3.6 3.6l-3.6 3.6l-3.6-3.6zM384.5 307.9l3.6 3.6l-3.6 3.6l-3.6-3.6zM381.5 312.9l3.6 3.6l-3.6 3.6l-3.6-3.6zM376.5 314.9l3.6 3.6l-3.6 3.6l-3.6-3.6zM386.5 314.9l3.6 3.6l-3.6 3.6l-3.6-3.6zM388.5 312.9l3.6 3.6l-3.6 3.6l-3.6-3.6zM397.5 312.9l3.6 3.6l-3.6 3.6l-3.6-3.6zM401.5 314.9l3.6 3.6l-3.6 3.6l-3.6-3.6zM407.5 316.9l3.6 3.6l-3.6 3.6l-3.6-3.6zM410.5 319.9l3.6 3.6l-3.6 3.6l-3.6-3.6zM416.5 325.9l3.6 3.6l-3.6 3.6l-3.6-3.6zM412.5 326.9l3.6 3.6l-3.6 3.6l-3.6-3.6zM427.5 312.9l3.6 3.6l-3.6 3.6l-3.6-3.6zM432.5 314.9l3.6 3.6l-3.6 3.6l-3.6-3.6zM425.5 319.9l3.6 3.6l-3.6 3.6l-3.6-3.6zM428.5 322.9l3.6 3.6l-3.6 3.6l-3.6-3.6zM437.5 326.9l3.6 3.6l-3.6 3.6l-3.6-3.6zM440.5 323.9l3.6 3.6l-3.6 3.6l-3.6-3.6zM486.5 333.9l3.6 3.6l-3.6 3.6l-3.6-3.6zM490.5 336.9l3.6 3.6l-3.6 3.6l-3.6-3.6zM498.5 334.9l3.6 3.6l-3.6 3.6l-3.6-3.6zM502.5 332.9l3.6 3.6l-3.6 3.6l-3.6-3.6zM507.5 324.9l3.6 3.6l-3.6 3.6l-3.6-3.6zM514.5 323.9l3.6 3.6l-3.6 3.6l-3.6-3.6zM518.5 332.9l3.6 3.6l-3.6 3.6l-3.6-3.6zM548.5 341.9l3.6 3.6l-3.6 3.6l-3.6-3.6zM545.5 346.9l3.6 3.6l-3.6 3.6l-3.6-3.6zM554.5 342.9l3.6 3.6l-3.6 3.6l-3.6-3.6zM578.5 354.9l3.6 3.6l-3.6 3.6l-3.6-3.6zM586.5 353.9l3.6 3.6l-3.6 3.6l-3.6-3.6zM580.5 360.9l3.6 3.6l-3.6 3.6l-3.6-3.6zM588.5 358.9l3.6 3.6l-3.6 3.6l-3.6-3.6zM586.5 352.9l3.6 3.6l-3.6 3.6l-3.6-3.6zM580.5 356.9l3.6 3.6l-3.6 3.6l-3.6-3.6zM592.5 350.9l3.6 3.6l-3.6 3.6l-3.6-3.6zM606.5 372.9l3.6 3.6l-3.6 3.6l-3.6-3.6zM612.5 370.9l3.6 3.6l-3.6 3.6l-3.6-3.6zM632.5 390.9l3.6 3.6l-3.6 3.6l-3.6-3.6zM638.5 388.9l3.6 3.6l-3.6 3.6l-3.6-3.6zM706.5 365.9l3.6 3.6l-3.6 3.6l-3.6-3.6zM677.5 369.9l3.6 3.6l-3.6 3.6l-3.6-3.6zM193.5 282.9l3.6 3.6l-3.6 3.6l-3.6-3.6zM186.5 279.9l3.6 3.6l-3.6 3.6l-3.6-3.6z" fill="#000080" shape-rendering="crispEdges"/>
<g>
<text x="96" y="74.3" text-anchor="end">10000000</text><text x="96" y="129.3" text-anchor="end">1000000</text><text x="96" y="184.3" text-anchor="end">100000</text><text x="96" y="239.3" text-anchor="end">10000</text><text x="96" y="294.3" text-anchor="end">1000</text><text x="96" y="349.3" text-anchor="end">100</text><text x="96" y="404.3" text-anchor="end">10</text><text x="96" y="459.3" text-anchor="end">1</text><text x="105.3" y="478" text-anchor="middle">0</text><text x="130.1" y="478" text-anchor="middle">24</text><text x="154.9" y="478" text-anchor="middle">48</text><text x="179.7" y="478" text-anchor="middle">72</text><text x="204.5" y="478" text-anchor="middle">96</text><text x="229.3" y="478" text-anchor="middle">120</text><text x="254.1" y="478" text-anchor="middle">144</text><text x="278.9" y="478" text-anchor="middle">168</text><text x="303.7" y="478" text-anchor="middle">192</text><text x="328.5" y="478" text-anchor="middle">216</text><text x="353.3" y="478" text-anchor="middle">240</text><text x="378.1" y="478" text-anchor="middle">264</text><text x="402.9" y="478" text-anchor="middle">288</text><text x="427.7" y="478" text-anchor="middle">312</text><text x="452.5" y="478" text-anchor="middle">336</text><text x="477.3" y="478" text-anchor="middle">360</text><text x="502.1" y="478" text-anchor="middle">384</text><text x="526.9" y="478" text-anchor="middle">408</text><text x="551.7" y="478" text-anchor="middle">432</text><text x="576.5" y="478" text-anchor="middle">456</text><text x="601.3" y="478" text-anchor="middle">480</text><text x="626.1" y="478" text-anchor="middle">504</text><text x="650.9" y="478" text-anchor="middle">528</text><text x="675.7" y="478" text-anchor="middle">552</text><text x="700.5" y="478" text-anchor="middle">576</text><text x="725.3" y="478" text-anchor="middle">600</text><text x="750.1" y="478" text-anchor="middle">624</text><text x="774.9" y="478" text-anchor="middle">648</text><text x="799.7" y="478" text-anchor="middle">672</text><text x="824.5" y="478" text-anchor="middle">696</text><text x="849.3" y="478" text-anchor="middle">720</text>
</g>
<text class="b" x="437.5" y="34" text-anchor="middle" style="font-size:14.5px">Time Distribution of Updates (Hours)</text>
<text class="b" x="477" y="516" text-anchor="middle" style="font-size:12px">Time Interval between updates of the same prefix (hours)</text>
<text class="b" transform="translate(30,261) rotate(-90)" text-anchor="middle" style="font-size:12px">Update Count (log)</text>
</svg>
</body></html>
